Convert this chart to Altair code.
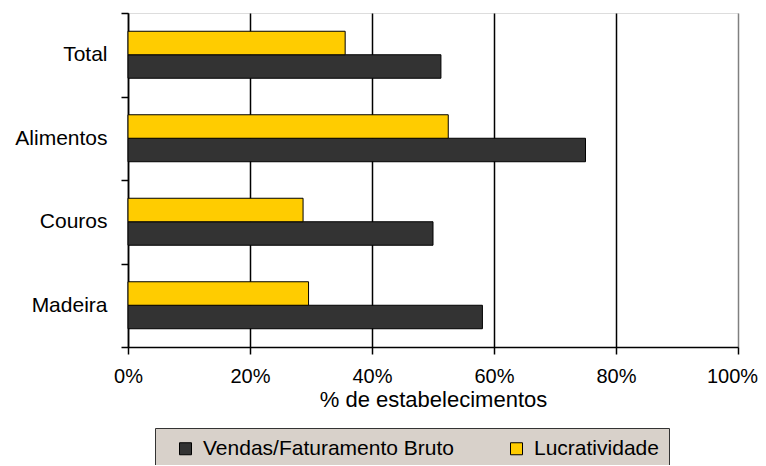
import altair as alt
import pandas as pd

categories = ["Total", "Alimentos", "Couros", "Madeira"]
series = ["Vendas/Faturamento Bruto", "Lucratividade"]
vendas = [0.513, 0.750, 0.500, 0.581]
lucratividade = [0.356, 0.525, 0.287, 0.296]
x_ticks = [0, 0.2, 0.4, 0.6, 0.8, 1.0]

rows = []
for c, v, l in zip(categories, vendas, lucratividade):
    rows.append({"Categoria": c, "Serie": series[0], "Valor": v})
    rows.append({"Categoria": c, "Serie": series[1], "Valor": l})
df = pd.DataFrame(rows)

FONT = "Liberation Sans"
W, H = 610, 334

bars = alt.Chart(df).mark_bar(stroke="black", strokeWidth=1, opacity=1).encode(
    x=alt.X(
        "Valor:Q",
        scale=alt.Scale(domain=[0, 1], nice=False, zero=True),
        axis=alt.Axis(
            values=x_ticks, format=".0%", title="% de estabelecimentos",
            grid=True,
            gridColor=alt.condition("datum.value >= 1", alt.value("#808080"), alt.value("black")),
            gridWidth=1.5, gridOpacity=1,
            domainColor="black", domainWidth=1.5, tickColor="black", tickSize=7, tickWidth=1.5,
            labelPadding=12, labelFontSize=20, labelColor="black", labelFont=FONT,
            labelFlush=False,
            labelOffset=alt.condition("datum.value >= 1", alt.value(-6), alt.value(0)),
            titleFontSize=22, titleColor="black", titleFont=FONT, titleFontWeight="normal",
            titlePadding=3,
        ),
    ),
    y=alt.Y(
        "Categoria:N", sort=categories,
        scale=alt.Scale(paddingInner=0, paddingOuter=0),
        axis=alt.Axis(
            title=None, tickBand="extent", tickSize=7, tickWidth=1.5, labelPadding=14,
            domainColor="black", domainWidth=1.5, tickColor="black", grid=False,
            labelFontSize=21, labelColor="black", labelFont=FONT,
        ),
    ),
    yOffset=alt.YOffset(
        "Serie:N", sort=[series[1], series[0]],
        scale=alt.Scale(paddingInner=0, paddingOuter=0.7766),
    ),
    color=alt.Color(
        "Serie:N",
        scale=alt.Scale(domain=series, range=["#333333", "#FFCC00"]),
        legend=alt.Legend(
            orient="none", legendX=27, legendY=415, direction="horizontal", title=None,
            fillColor="#D8D1CA", strokeColor="#333333", padding=10,
            symbolType="square", symbolSize=144, symbolStrokeColor="black",
            symbolStrokeWidth=1, symbolOpacity=1, symbolOffset=10, labelOffset=7,
            labelFontSize=21, labelFont=FONT, labelColor="black", labelLimit=400,
            columnPadding=42,
        ),
    ),
)

chart = bars.properties(
    width=W, height=H,
    autosize=alt.AutoSizeParams(type="none"),
    padding={"left": 120, "top": 5, "right": 20, "bottom": 118},
).configure_view(
    stroke="#808080", strokeWidth=1.5
).configure(
    font=FONT, background="white"
)

chart.save("out.html", embed_options={"renderer": "svg", "actions": False})
